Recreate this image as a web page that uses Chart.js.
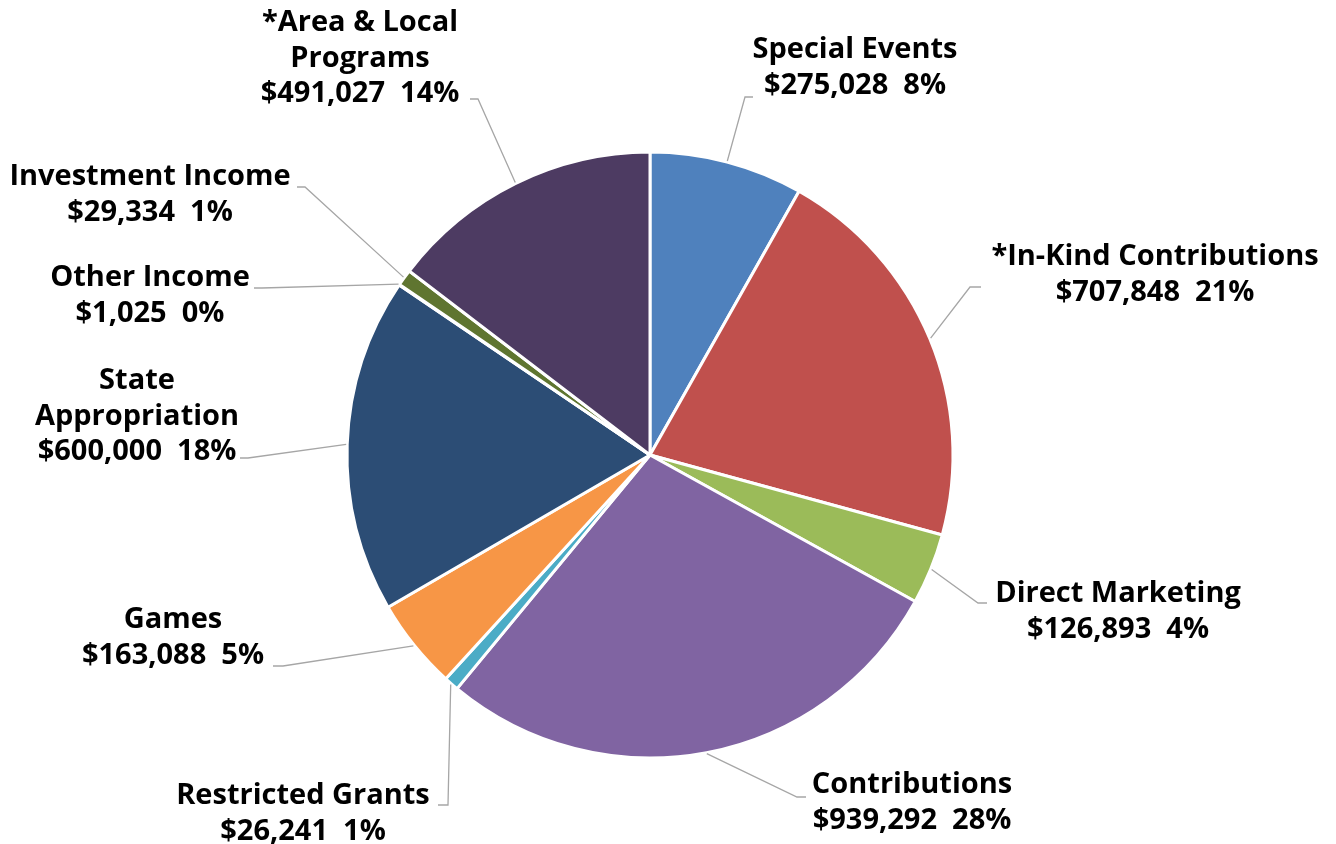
<!DOCTYPE html>
<html>
<head>
<meta charset="utf-8">
<script src="https://cdn.jsdelivr.net/npm/chart.js@4.4.1/dist/chart.umd.min.js"></script>
<style>
  html, body { margin: 0; padding: 0; background: #fff; }
  #wrap { width: 1336px; height: 844px; }
</style>
</head>
<body>
<div id="wrap"><canvas id="pieChart" width="1336" height="844"></canvas></div>
<script>
// revenue sources, clockwise from 12 o'clock
var categories = [
    'Special Events',
    '*In-Kind Contributions',
    'Direct Marketing',
    'Contributions',
    'Restricted Grants',
    'Games',
    ['State', 'Appropriation'],
    'Other Income',
    'Investment Income',
    ['*Area & Local', 'Programs']
];
var amounts = [275028, 707848, 126893, 939292, 26241, 163088, 600000, 1025, 29334, 491027];
// percentages as printed on the original labels
var percentLabels = [8, 21, 4, 28, 1, 5, 18, 0, 1, 14];
var sliceColors = ['#4F81BD', '#C0504D', '#9BBB59', '#8064A2', '#4BACC6',
                   '#F79646', '#2C4D75', '#772C2A', '#5F7530', '#4D3B62'];

// where each data label sits (text centre x, first line y) and its leader elbow
var labelSpots = [
    { x: 855,  y: 50,  elbow: [745, 97],  stub: 753 },
    { x: 1155, y: 257, elbow: [970, 287], stub: 981 },
    { x: 1118, y: 594, elbow: [978, 603], stub: 987 },
    { x: 912,  y: 785, elbow: [797, 797], stub: 806 },
    { x: 303,  y: 796, elbow: [448, 805], stub: 438 },
    { x: 173,  y: 620, elbow: [283, 666], stub: 273 },
    { x: 137,  y: 381, elbow: [248, 458], stub: 240 },
    { x: 150,  y: 278, elbow: [262, 288], stub: 254 },
    { x: 150,  y: 177, elbow: [305, 187], stub: 297 },
    { x: 360,  y: 23,  elbow: [478, 99],  stub: 470 }
];

var outsideLabels = {
    id: 'outsideLabels',
    afterDraw: function (chart) {
        var ctx = chart.ctx;
        var meta = chart.getDatasetMeta(0);
        ctx.save();
        meta.data.forEach(function (arc, i) {
            var p = arc.getProps(['x', 'y', 'startAngle', 'endAngle', 'outerRadius']);
            var mid = (p.startAngle + p.endAngle) / 2;
            var r = p.outerRadius + 1;
            var spot = labelSpots[i];
            // leader line
            ctx.strokeStyle = '#A6A6A6';
            ctx.lineWidth = 1.3;
            ctx.beginPath();
            ctx.moveTo(p.x + Math.cos(mid) * r, p.y + Math.sin(mid) * r);
            ctx.lineTo(spot.elbow[0], spot.elbow[1]);
            ctx.lineTo(spot.stub, spot.elbow[1]);
            ctx.stroke();

            // text
            var name = categories[i];
            var lines = Array.isArray(name) ? name.slice() : [name];
            lines.push('$' + amounts[i].toLocaleString('en-US') + '\u00a0\u00a0' + percentLabels[i] + '%');
            ctx.fillStyle = '#000';
            ctx.font = 'bold 29px "Open Sans"';
            ctx.textAlign = 'center';
            ctx.textBaseline = 'middle';
            lines.forEach(function (t, k) {
                ctx.fillText(t, spot.x, spot.y + k * 35.5);
            });
        });
        ctx.restore();
    }
};

var ctxP = document.getElementById('pieChart').getContext('2d');
var myPieChart = new Chart(ctxP, {
    type: 'pie',
    data: {
        labels: categories,
        datasets: [{
            data: amounts,
            backgroundColor: sliceColors,
            borderColor: '#FFFFFF',
            borderWidth: 3
        }]
    },
    options: {
        responsive: false,
        animation: false,
        layout: {
            padding: { top: 150.5, bottom: 84.5, left: 0, right: 36 }
        },
        plugins: {
            legend: { display: false },
            tooltip: { enabled: false }
        }
    },
    plugins: [outsideLabels]
});
</script>
</body>
</html>
